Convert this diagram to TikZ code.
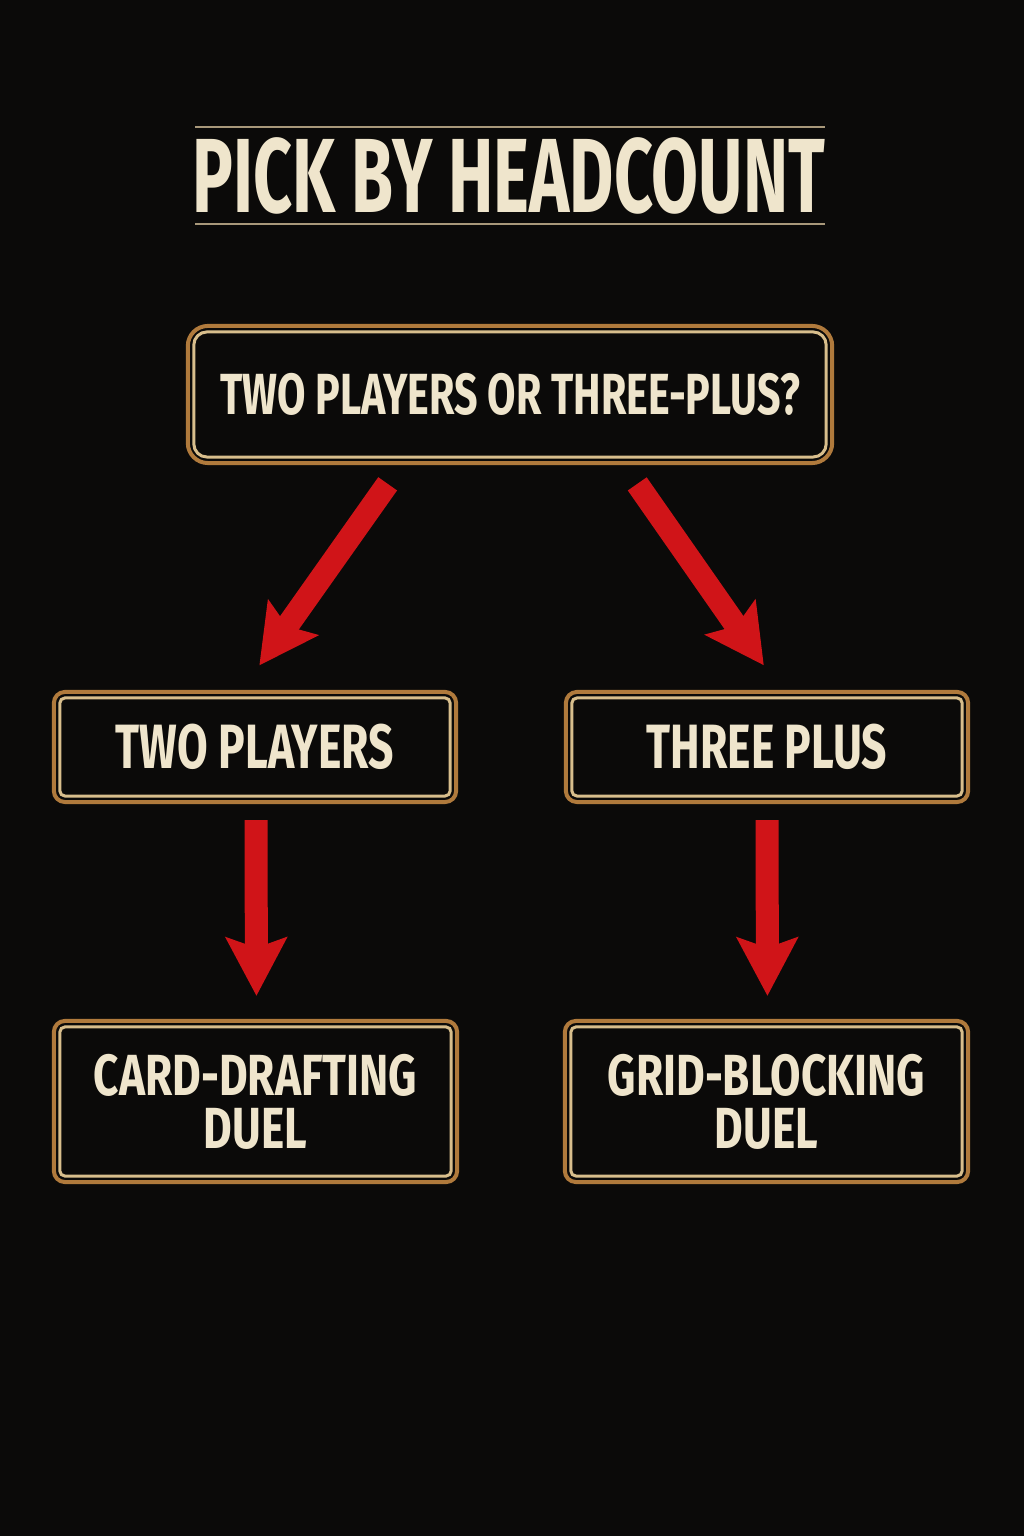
\documentclass[tikz,border=0pt]{standalone}
\usepackage{fontspec}
\setmainfont{Fira Sans}[FakeStretch=0.71]
\newfontfamily\titlefont{Fira Sans}[FakeStretch=0.645]
\newfontfamily\pickfont{Fira Sans}[FakeStretch=0.76]
\usetikzlibrary{arrows.meta}
\definecolor{board}{HTML}{0B0A09}
\definecolor{parchment}{HTML}{EFE5CC}
\definecolor{copper}{HTML}{B07A3C}
\definecolor{brass}{HTML}{D8BE8C}
\definecolor{signal}{HTML}{D01418}
\definecolor{rulecol}{HTML}{A8987A}
\tikzset{
  plate/.style = {
    draw=copper, line width=0.04cm, fill=board,
    text=parchment, font=\bfseries, align=center,
    inner sep=0pt
  },
  innerplate/.style = {brass, line width=0.03cm},
  flow/.style = {signal, line width=0.23cm, -{Stealth[width=0.6cm,length=0.58cm,inset=0.1cm]}}
}

\begin{document}
\begin{tikzpicture}[x=0.01cm,y=0.01cm]
  % background
  \fill[board] (0,0) rectangle (1024,1536);
  \useasboundingbox (0,0) rectangle (1024,1536);
  % title
  \draw[rulecol, line width=0.02cm] (195,1409) -- (825,1409);
  \draw[rulecol, line width=0.02cm] (195,1312) -- (825,1312);
  \node[text=parchment, font=\titlefont\bfseries\fontsize{30}{30}\selectfont] (title) at (509,1360) {PICK BY HEADCOUNT};
  % question
  \node[plate, rounded corners=0.2cm, minimum width=6.44cm, minimum height=1.37cm,
        font=\bfseries\fontsize{16.5}{18}\selectfont] (q) at (510,1141.5) {TWO PLAYERS OR THREE-PLUS?};
  % branches
  \node[plate, rounded corners=0.11cm, minimum width=4.02cm, minimum height=1.1cm,
        font=\bfseries\fontsize{17.8}{18}\selectfont] (two) at (255,789) {TWO PLAYERS};
  \node[plate, rounded corners=0.11cm, minimum width=4.02cm, minimum height=1.1cm,
        font=\bfseries\fontsize{17.8}{18}\selectfont] (three) at (767,789) {THREE PLUS};
  % picks
  \node[plate, rounded corners=0.11cm, minimum width=4.03cm, minimum height=1.61cm,
        font=\pickfont\bfseries\fontsize{16.5}{15.1}\selectfont] (card) at (255.5,434.5) {CARD-DRAFTING\\DUEL};
  \node[plate, rounded corners=0.11cm, minimum width=4.03cm, minimum height=1.61cm,
        font=\pickfont\bfseries\fontsize{16.5}{15.1}\selectfont] (grid) at (766.5,434.5) {GRID-BLOCKING\\DUEL};
  % inner frames
  \foreach \n/\r in {q/0.13cm, two/0.05cm, three/0.05cm, card/0.05cm, grid/0.05cm}
    \draw[innerplate, rounded corners=\r]
      ([shift={(0.08cm,0.08cm)}]\n.south west) rectangle ([shift={(-0.08cm,-0.08cm)}]\n.north east);
  % arrows
  \draw[flow, shorten <=0.23cm, shorten >=0.3cm] ([xshift=-1.09cm]q.south) -- ([xshift=-0.13cm]two.north);
  \draw[flow, shorten <=0.23cm, shorten >=0.3cm] ([xshift=1.14cm]q.south) -- ([xshift=0.14cm]three.north);
  \draw[flow, shorten <=0.16cm, shorten >=0.23cm] ([xshift=0.01cm]two.south) -- ([xshift=0.01cm]card.north);
  \draw[flow, shorten <=0.16cm, shorten >=0.23cm] (three.south) -- ([xshift=0.01cm]grid.north);
\end{tikzpicture}
\end{document}
